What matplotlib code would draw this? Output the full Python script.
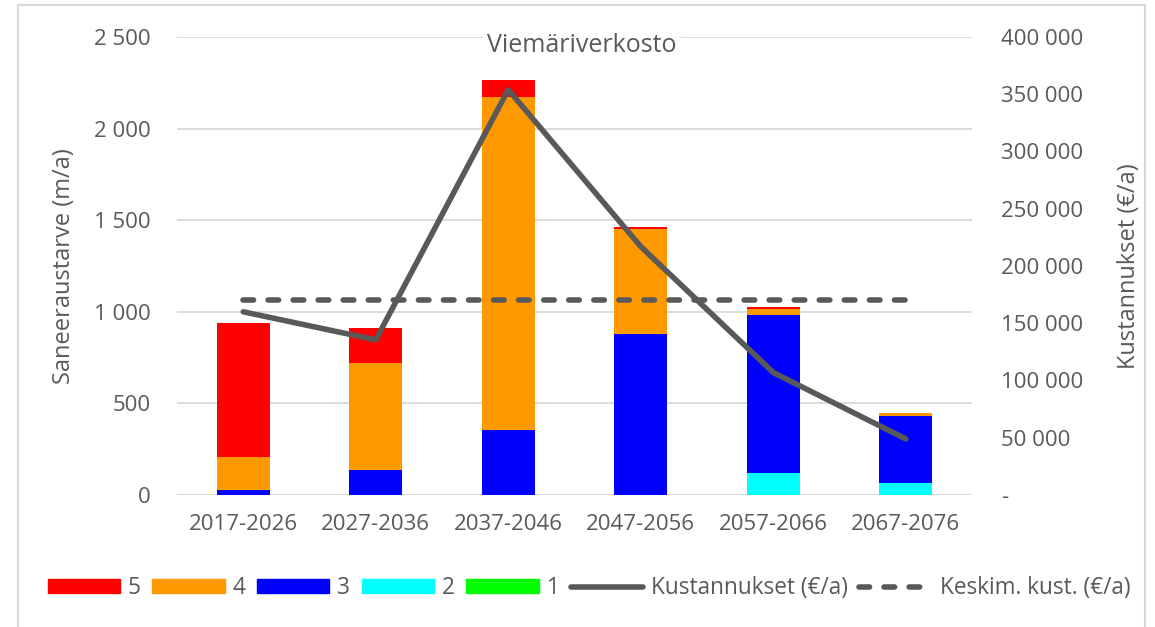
import matplotlib
matplotlib.use("Agg")
import matplotlib.pyplot as plt
from matplotlib.patches import Patch
from matplotlib.lines import Line2D
from matplotlib.ticker import FixedLocator
import numpy as np

plt.rcParams['font.family'] = ['Open Sans', 'DejaVu Sans']

categories = ["2017-2026", "2027-2036", "2037-2046", "2047-2056", "2057-2066", "2067-2076"]
class1 = [0, 0, 0, 0, 0, 0]
class2 = [0, 0, 0, 0, 122, 64]
class3 = [27, 136, 353, 877, 860, 367]
class4 = [182, 583, 1821, 575, 33, 17]
class5 = [730, 194, 90, 11, 11, 2]
costs = [160000, 135500, 354000, 217000, 107000, 49000]
avg_cost = [170000] * 6

left_ticks = [0, 500, 1000, 1500, 2000, 2500]
left_labels = ["0", "500", "1 000", "1 500", "2 000", "2 500"]
right_ticks = [0, 50000, 100000, 150000, 200000, 250000, 300000, 350000, 400000]
right_labels = ["-", "50 000", "100 000", "150 000", "200 000", "250 000", "300 000", "350 000", "400 000"]

colors = {"5": "#FF0000", "4": "#FF9900", "3": "#0000FF", "2": "#00FFFF", "1": "#00FF00"}
line_color = "#595959"
text_color = "#595959"
grid_color = "#D9D9D9"
LW = 4.0
DASH = (1.9, 2.61)

W, H = 1155, 627
fig = plt.figure(figsize=(W / 100, H / 100), dpi=100)
ax = fig.add_axes([177 / W, 1 - 495 / H, (972 - 177) / W, (495 - 37) / H])

x = np.arange(len(categories))
bw = 0.40
bottom = np.zeros(len(categories))
for name, vals in [("1", class1), ("2", class2), ("3", class3), ("4", class4), ("5", class5)]:
    ax.bar(x, vals, bw, bottom=bottom, color=colors[name], zorder=2)
    bottom += np.array(vals)

ax.set_xlim(-0.5, len(categories) - 0.5)
ax.set_ylim(0, 2500)
ax.yaxis.set_major_locator(FixedLocator(left_ticks))
ax.set_yticklabels(left_labels)
ax.grid(axis='y', color=grid_color, linewidth=1.3, zorder=0)
ax.set_axisbelow(True)
for s in ax.spines.values():
    s.set_visible(False)
ax.tick_params(axis='both', length=0, labelsize=16, colors=text_color)
ax.tick_params(axis='y', pad=19)
ax.tick_params(axis='x', pad=14)
ax.set_xticks(x)
ax.set_xticklabels(categories)
ax.axhline(0, color=grid_color, linewidth=1.3, zorder=1)
ax.set_ylabel("Saneeraustarve (m/a)", fontsize=17, color=text_color, labelpad=13)

ax2 = ax.twinx()
ax2.set_ylim(0, 400000)
ax2.yaxis.set_major_locator(FixedLocator(right_ticks))
ax2.set_yticklabels(right_labels)
for s in ax2.spines.values():
    s.set_visible(False)
ax2.tick_params(axis='y', length=0, labelsize=16, colors=text_color, pad=21)
ax2.set_ylabel("Kustannukset (€/a)", fontsize=17, color=text_color, rotation=90, labelpad=24)
ax2.plot(x, costs, color=line_color, linewidth=LW, solid_capstyle='round', solid_joinstyle='round', zorder=3)
ax2.plot(x, avg_cost, color=line_color, linewidth=LW, dashes=DASH, dash_capstyle='round', zorder=3)

ax.text(0.509, 0.982, "Viemäriverkosto", transform=ax.transAxes, ha='center', va='center',
        fontsize=18, color=text_color, zorder=5,
        bbox=dict(facecolor='white', edgecolor='none', pad=3))

handles = [Patch(color=colors[k]) for k in ["5", "4", "3", "2", "1"]]
handles += [Line2D([], [], color=line_color, linewidth=LW, solid_capstyle='round'),
            Line2D([], [], color=line_color, linewidth=LW, dashes=DASH, dash_capstyle='round')]
labels = ["5", "4", "3", "2", "1", "Kustannukset (€/a)", "Keskim. kust. (€/a)"]
leg = fig.legend(handles, labels, loc='center', bbox_to_anchor=(589 / W, 1 - 588 / H), ncol=7,
                 frameon=False, fontsize=16.3, handlelength=3.2, handleheight=0.55, handletextpad=0.35,
                 columnspacing=0.5, labelcolor=text_color)

# outer frame
fig.patches.append(plt.Rectangle((18 / W, -0.01), (1145 - 18) / W, 1 - 5 / H + 0.01,
                                 transform=fig.transFigure, fill=False, edgecolor=grid_color,
                                 linewidth=1.5))

fig.savefig("out.png", dpi=100, facecolor='white')
